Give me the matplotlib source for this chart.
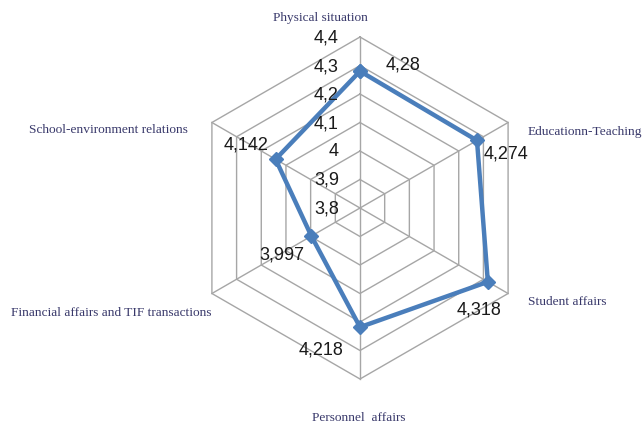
import numpy as np
import matplotlib
matplotlib.use('Agg')
import matplotlib.pyplot as plt

# data
categories = ['Physical situation', 'Educationn-Teaching', 'Student affairs',
              'Personnel  affairs', 'Financial affairs and TIF transactions',
              'School-environment relations']
values = [4.28, 4.274, 4.318, 4.218, 3.997, 4.142]
value_labels = ['4,28', '4,274', '4,318', '4,218', '3,997', '4,142']
ticks = [3.8, 3.9, 4.0, 4.1, 4.2, 4.3, 4.4]
tick_labels = ['3,8', '3,9', '4', '4,1', '4,2', '4,3', '4,4']

W, H = 642, 427
fig = plt.figure(figsize=(W / 100, H / 100), dpi=100)
fig.patch.set_facecolor('white')

# center (360, 209) px, radius 171 px
cx, cy, R = 360, 209, 171
ax = fig.add_axes([(cx - R) / W, (H - cy - R) / H, 2 * R / W, 2 * R / H], projection='polar')
ax.set_theta_offset(np.pi / 2)
ax.set_theta_direction(-1)
ax.set_ylim(ticks[0], ticks[-1])
ax.axis('off')

n = len(categories)
theta = np.linspace(0, 2 * np.pi, n, endpoint=False)
theta_c = np.append(theta, theta[0])

grid_col = '#a6a6a6'
# hexagon rings
for t in ticks[1:]:
    ax.plot(theta_c, [t] * (n + 1), color=grid_col, lw=1.0, clip_on=False, zorder=1)
# spokes
for th in theta:
    ax.plot([th, th], [ticks[0], ticks[-1]], color=grid_col, lw=1.0, clip_on=False, zorder=1)

# series
vals_c = values + [values[0]]
ax.plot(theta_c, vals_c, color='#4a7ebb', lw=3.2, marker='D', ms=7.5,
        markeredgecolor='#4a7ebb', clip_on=False, zorder=3)

# axis tick labels
for t, lab in zip(ticks, tick_labels):
    ax.annotate(lab, (0, t), xytext=(-21, 0), textcoords='offset pixels',
                ha='right', va='center', fontsize=13, family='Liberation Sans',
                color='#1a1a1a', annotation_clip=False, zorder=4)

# data labels
offsets = [(43, 7), (29, -13), (-9, -27), (-39, -22), (-30, -18), (-30, 15)]
for th, v, lab, off in zip(theta, values, value_labels, offsets):
    ax.annotate(lab, (th, v), xytext=off, textcoords='offset pixels',
                ha='center', va='center', fontsize=13, family='Liberation Sans',
                color='#1a1a1a', annotation_clip=False, zorder=4)

# category labels (pixel positions of the text)
cat_pos = [(320, 18, 'center'), (528, 132, 'left'), (528, 302, 'left'),
           (359, 418, 'center'), (111, 313, 'center'), (108, 130, 'center')]
for lab, (px, py, ha) in zip(categories, cat_pos):
    fig.text(px / W, 1 - py / H, lab, ha=ha, va='center', fontsize=9.6,
             family='Liberation Serif', color='#38386a')

fig.savefig('out.png', dpi=100, facecolor='white')
